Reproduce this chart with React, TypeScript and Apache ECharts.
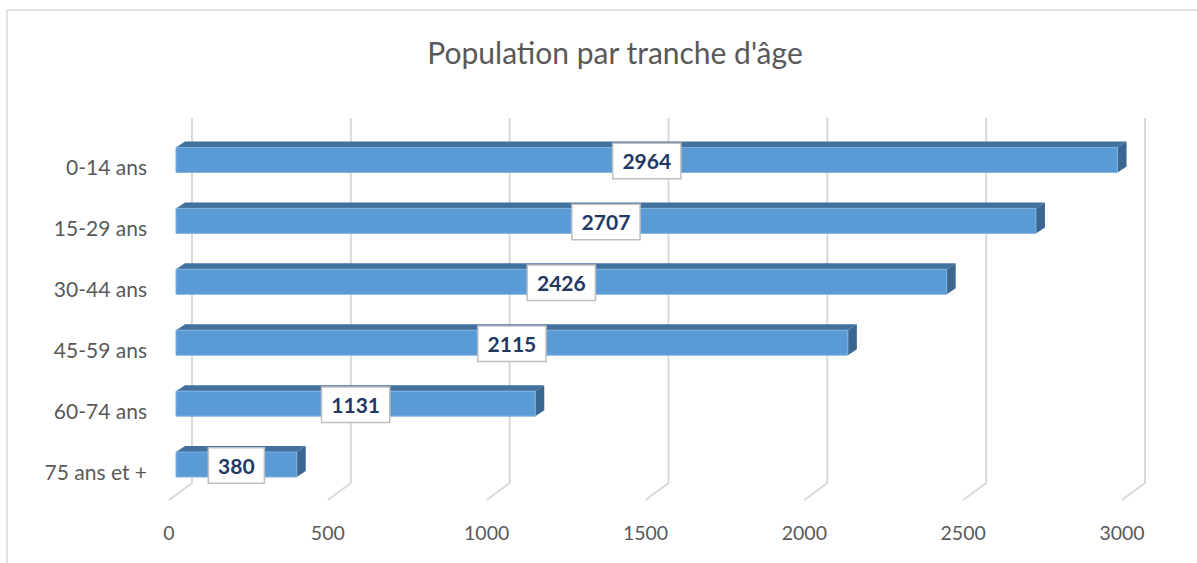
import React, { useEffect, useRef } from "react";
import * as echarts from "echarts";

const categories = ["0-14 ans", "15-29 ans", "30-44 ans", "45-59 ans", "60-74 ans", "75 ans et +"];
const values = [2964, 2707, 2426, 2115, 1131, 380];
const xTicks = [0, 500, 1000, 1500, 2000, 2500, 3000];
const titleText = "Population par tranche d'âge";

const FONT = "Lato, 'Open Sans', sans-serif";

export default function App() {
  const ref = useRef<HTMLDivElement>(null);
  useEffect(() => {
    if (!ref.current) return;
    const chart = echarts.init(ref.current, undefined, { renderer: "svg" });
    const DX = 9, DY = 6, BAR_H = 25, BAR_SHIFT = 7, BACK_SHIFT = 23;
    chart.setOption({
      animation: false,
      backgroundColor: "#ffffff",
      title: {
        text: titleText,
        left: 610,
        textAlign: "center",
        top: 32,
        textStyle: { fontFamily: FONT, fontSize: 30, fontWeight: "normal", color: "#595959" },
      },
      graphic: [
        {
          type: "rect",
          shape: { x: 7, y: 10, width: 1200, height: 600 },
          style: { fill: "none", stroke: "#D9D9D9", lineWidth: 1.5 },
          silent: true,
        },
      ],
      grid: { left: 169, right: 75, top: 129.5, bottom: 68, containLabel: false },
      xAxis: {
        type: "value",
        min: 0,
        max: 3000,
        interval: 500,
        splitLine: { show: false },
        axisLine: { show: false },
        axisTick: { show: false },
        axisLabel: {
          color: "#595959",
          fontFamily: FONT,
          fontSize: 19.5,
          margin: 27,
          formatter: (v: number) => String(v),
        },
      },
      yAxis: {
        type: "category",
        inverse: true,
        data: categories,
        axisLine: { show: false },
        axisTick: { show: false },
        splitLine: { show: false },
        axisLabel: { show: false },
      },
      series: [
        {
          type: "custom",
          silent: true,
          data: xTicks.map((t) => [t, 0]),
          encode: { x: 0, y: 1 },
          z: 1,
          renderItem: (params: any, api: any) => {
            const cs = params.coordSys;
            const x = api.coord([api.value(0), 0])[0];
            const top = cs.y - 11.5;
            const backBottom = cs.y + cs.height - 12;
            const frontBottom = cs.y + cs.height + 5;
            return {
              type: "polyline",
              shape: {
                points: [
                  [x + BACK_SHIFT, top],
                  [x + BACK_SHIFT, backBottom],
                  [x, frontBottom],
                ],
              },
              style: { stroke: "#D9D9D9", lineWidth: 2, fill: "none" },
            };
          },
        },
        {
          type: "custom",
          data: values.map((v, i) => [v, i]),
          encode: { x: 0, y: 1 },
          z: 2,
          renderItem: (params: any, api: any) => {
            const v = api.value(0);
            const idx = api.value(1);
            const p0 = api.coord([0, idx]);
            const p1 = api.coord([v, idx]);
            const x0 = p0[0] + BAR_SHIFT;
            const x1 = p1[0] + BAR_SHIFT;
            const yc = p1[1];
            const yT = yc - BAR_H / 2;
            const yB = yc + BAR_H / 2;
            return {
              type: "group",
              children: [
                {
                  type: "text",
                  x: p0[0] - 22,
                  y: yc + 7,
                  style: {
                    text: categories[idx],
                    align: "right",
                    verticalAlign: "middle",
                    fontFamily: FONT,
                    fontSize: 21,
                    fill: "#595959",
                  },
                },
                {
                  type: "polygon",
                  shape: { points: [[x0, yT], [x0 + DX, yT - DY], [x1 + DX, yT - DY], [x1, yT]] },
                  style: { fill: "#41719C" },
                },
                {
                  type: "polygon",
                  shape: { points: [[x1, yT], [x1 + DX, yT - DY], [x1 + DX, yB - DY], [x1, yB]] },
                  style: { fill: "#3A6690" },
                },
                {
                  type: "rect",
                  shape: { x: x0, y: yT, width: x1 - x0, height: BAR_H },
                  style: { fill: "#5B9BD5", stroke: "#7FB2E0", lineWidth: 1 },
                },
                {
                  type: "text",
                  x: (x0 + x1) / 2,
                  y: yc + 1,
                  style: {
                    text: String(v),
                    align: "center",
                    verticalAlign: "middle",
                    fontFamily: FONT,
                    fontSize: 21,
                    fontWeight: "bold",
                    fill: "#1F3864",
                    backgroundColor: "#ffffff",
                    borderColor: "#BFBFBF",
                    borderWidth: 1.5,
                    padding: [7, 9, 6, 9],
                  },
                },
              ],
            };
          },
        },
      ],
    });
    return () => chart.dispose();
  }, []);
  return (
    <div
      ref={ref}
      style={{ position: "fixed", left: 0, top: 0, width: 1197, height: 563 }}
    />
  );
}
